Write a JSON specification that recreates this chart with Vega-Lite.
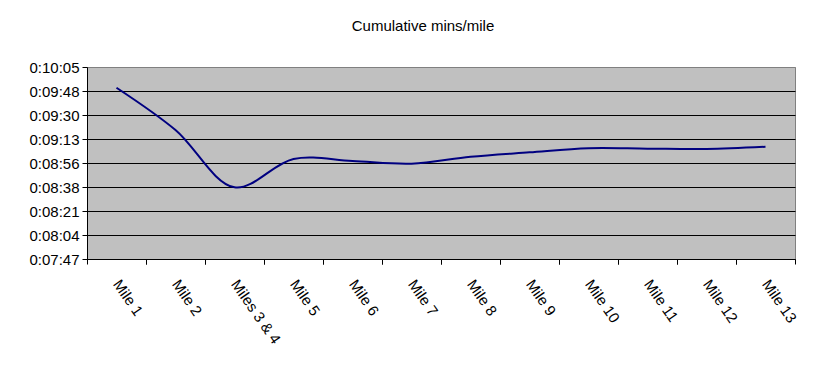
{
  "$schema": "https://vega.github.io/schema/vega-lite/v6.json",
  "width": 708,
  "height": 192,
  "autosize": {"type": "none"},
  "padding": {"left": 87, "top": 67, "right": 41, "bottom": 125},
  "background": "white",
  "title": {
    "text": "Cumulative mins/mile",
    "font": "Liberation Sans",
    "fontSize": 15,
    "fontWeight": "normal",
    "color": "black",
    "anchor": "middle",
    "offset": 26,
    "dx": -18
  },
  "config": {
    "view": {"fill": "#C0C0C0", "stroke": "#808080", "strokeWidth": 1},
    "axis": {"labelFont": "Liberation Sans", "labelColor": "black", "tickColor": "black", "domainColor": "black"}
  },
  "data": {
    "values": [
      {"mile": "Mile 1", "sec": 590.1},
      {"mile": "Mile 2", "sec": 559.7},
      {"mile": "Miles 3 & 4", "sec": 518.5},
      {"mile": "Mile 5", "sec": 538.9},
      {"mile": "Mile 6", "sec": 537.4},
      {"mile": "Mile 7", "sec": 535.5},
      {"mile": "Mile 8", "sec": 540.5},
      {"mile": "Mile 9", "sec": 543.7},
      {"mile": "Mile 10", "sec": 546.6},
      {"mile": "Mile 11", "sec": 546.3},
      {"mile": "Mile 12", "sec": 546.1},
      {"mile": "Mile 13", "sec": 547.7}
    ]
  },
  "encoding": {
    "y": {
      "field": "sec",
      "type": "quantitative",
      "scale": {"domain": [467, 605], "nice": false, "zero": false},
      "axis": {
        "title": null,
        "values": [467, 484.25, 501.5, 518.75, 536, 553.25, 570.5, 587.75, 605],
        "labelExpr": "['0:07:47','0:08:04','0:08:21','0:08:38','0:08:56','0:09:13','0:09:30','0:09:48','0:10:05'][round((datum.value-467)/17.25)]",
        "labelFontSize": 15,
        "labelPadding": 3,
        "tickSize": 5,
        "grid": true,
        "gridColor": {"condition": {"test": "datum.value >= 604", "value": "#808080"}, "value": "black"},
        "gridOpacity": 1,
        "gridWidth": 1
      }
    }
  },
  "layer": [
    {
      "mark": {"type": "line", "strokeOpacity": 0},
      "encoding": {
        "x": {
          "field": "mile", "type": "ordinal", "sort": null,
          "scale": {"type": "band", "paddingInner": 0, "paddingOuter": 0},
          "axis": {"orient": "bottom", "title": null, "labels": false, "grid": false, "domain": true, "ticks": true, "tickSize": 5, "bandPosition": 0}
        }
      }
    },
    {
      "mark": {"type": "line", "strokeOpacity": 0},
      "encoding": {
        "x": {
          "field": "mile", "type": "ordinal", "sort": null,
          "axis": {"orient": "bottom", "title": null, "labels": false, "grid": false, "domain": false, "ticks": true, "tickSize": 5, "bandPosition": 1}
        }
      }
    },
    {
      "mark": {"type": "line", "interpolate": "catmull-rom", "color": "#000080", "strokeWidth": 2},
      "encoding": {
        "x": {
          "field": "mile", "type": "ordinal", "sort": null,
          "axis": {"orient": "bottom", "title": null, "labels": true, "grid": false, "domain": false, "ticks": false, "labelAngle": 55, "labelAlign": "left", "labelBaseline": "middle", "labelPadding": 22, "labelFontSize": 15}
        }
      }
    }
  ],
  "resolve": {"axis": {"x": "independent"}}
}
